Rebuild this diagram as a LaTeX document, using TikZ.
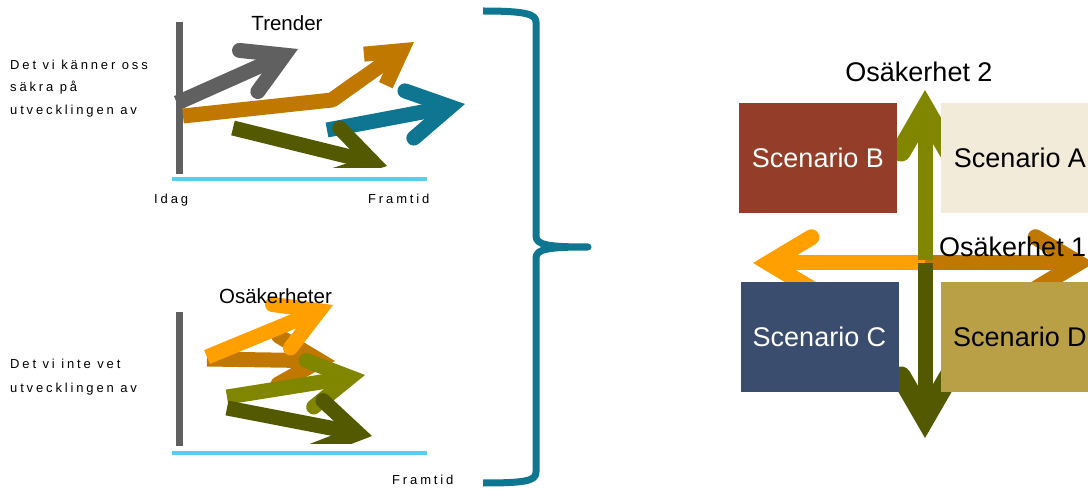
\documentclass[tikz,border=0pt]{standalone}
\usepackage{fontspec}
\setmainfont{Liberation Sans}
\newfontfamily\spaced[LetterSpace=22]{Liberation Sans}
\usetikzlibrary{calc}

\definecolor{axisgrey}{RGB}{96,96,96}
\definecolor{timeblue}{RGB}{88,205,238}
\definecolor{amber}{RGB}{192,120,0}
\definecolor{pilteal}{RGB}{14,118,145}
\definecolor{darkolive}{RGB}{82,89,0}
\definecolor{olive}{RGB}{128,134,0}
\definecolor{orange}{RGB}{255,160,0}
\definecolor{scenb}{RGB}{148,61,40}
\definecolor{scena}{RGB}{242,235,217}
\definecolor{scenc}{RGB}{58,77,110}
\definecolor{scend}{RGB}{185,160,70}

\tikzset{
  shaft/.style={line width=15, line cap=butt},
  barb/.style={line cap=round, line join=miter},
  small/.style={inner sep=0, anchor=base west, font=\spaced\fontsize{13}{15}\selectfont},
  head/.style={inner sep=0, anchor=base, font=\fontsize{20.5}{24}\selectfont},
  big/.style={inner sep=0, anchor=base, font=\fontsize{27}{32}\selectfont},
  scen/.style={minimum width=158, minimum height=110, inner sep=0, font=\fontsize{27}{32}\selectfont},
}

% [half angle] colour, from, tip, arm length, arm width
\newcommand\pil[6][30]{%
  \coordinate (pj) at ($(#4)!{#6pt/(2*sin(#1))}!(#3)$);
  \draw[shaft,#2] (#3) -- (pj);
  \draw[barb,#2,line width=#6] ($(pj)!#5pt!#1:(#3)$) -- (pj) -- ($(pj)!#5pt!-#1:(#3)$);
}

\begin{document}
\begin{tikzpicture}[x=1pt, y=-1pt]
\useasboundingbox (0,0) rectangle (1088,489);

% Trender
\draw[axisgrey, line width=7] (179.5,22) -- (179.5,174);
\draw[timeblue, line width=4] (172,179) -- (427,179);
\pil{axisgrey}{177,103}{298,49}{45}{15}
\draw[shaft, amber, line join=round] (183,116) -- (332,100) -- (360,80);
\pil{amber, line cap=butt}{332,100}{414,42}{38}{15}
\pil{pilteal}{327,130}{465,104}{48}{15}
\begin{scope}
  \clip (0,0) rectangle (1088,168);
  \pil[32]{darkolive}{233,128}{387,166}{48}{15}
\end{scope}
\node[head] (trender) at (287,31) {Trender};
\node[small] (kanner1) at (10,70) {Det vi känner oss};
\node[small] (kanner2) at (10,92) {säkra på};
\node[small] (kanner3) at (10,115) {utvecklingen av};
\node[small] (idag) at (154,204) {Idag};
\node[small] (framtid1) at (368,204) {Framtid};

% Osäkerheter
\draw[axisgrey, line width=7] (179,312) -- (179,446);
\draw[timeblue, line width=4] (172,453) -- (427,453);
\pil{amber}{207,359}{335,361}{48}{15}
\pil{orange}{207,357}{333,305}{47}{15}
\pil{olive}{227,397}{365,375}{47}{15}
\begin{scope}
  \clip (0,0) rectangle (1088,443);
  \pil[32]{darkolive}{227,408}{372,436}{48}{15}
\end{scope}
\node[head] (osakheter) at (275.5,304) {Osäkerheter};
\node[small] (intevet1) at (10,369) {Det vi inte vet};
\node[small] (intevet2) at (10,392) {utvecklingen av};
\node[small] (framtid2) at (392,484) {Framtid};

% Klammer
\draw[pilteal, line width=7, line join=round] (483,11) .. controls (525,11) and (536,14) .. (536,22)
  -- (536,236) .. controls (536,245) and (548,247) .. (588,247)
  .. controls (548,247) and (536,249) .. (536,258)
  -- (536,472) .. controls (536,481) and (525,483) .. (483,483);

% Scenariokors
\pil[31]{orange}{925,263}{753,263}{50}{16}
\pil[31]{amber}{925,263}{1094,263}{50}{16}
\pil{olive}{925,260}{925,90}{48}{20}
\pil{darkolive}{925,263}{925,438}{48}{20}
\node[scen, fill=scenb, text=white] (scenB) at (818,158) {Scenario B};
\node[scen, fill=scena] (scenA) at (1020,158) {Scenario A};
\node[scen, fill=scenc, text=white] (scenC) at (819.5,337) {Scenario C};
\node[scen, fill=scend] (scenD) at (1020,337) {Scenario D};
\node[big] (osak2) at (919,82) {Osäkerhet 2};
\node[big, anchor=base west] (osak1) at (939,257) {Osäkerhet 1};
\end{tikzpicture}
\end{document}
